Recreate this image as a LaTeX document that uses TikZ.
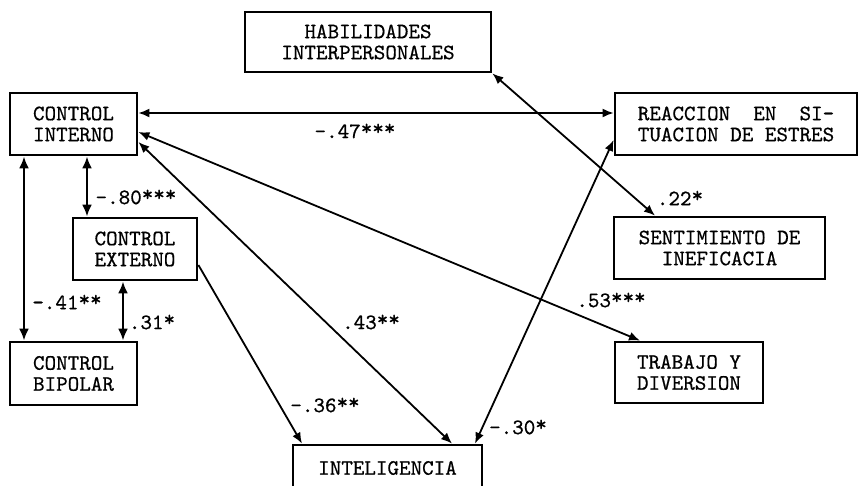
\documentclass[tikz,border=0pt]{standalone}
\usepackage{fontspec}
\setmonofont{lmmono10-regular.otf}[FakeBold=0.6]
\usetikzlibrary{arrows.meta}
\newcommand{\st}[1]{\raisebox{3pt}{#1}}
\begin{document}
\begin{tikzpicture}[x=1pt,y=-1pt,
  box/.style={draw, line width=2.8pt, rectangle, inner sep=0pt, align=center,
    font=\ttfamily\fontsize{22}{21}\selectfont},
  lbl/.style={inner sep=0pt, font=\ttfamily\fontsize{22}{21}\selectfont},
  conn/.style={line width=1.8pt, {Latex[length=11pt,width=9pt]}-{Latex[length=11pt,width=9pt]}},
  oneway/.style={line width=1.8pt, -{Latex[length=11pt,width=9pt]}},
  thickconn/.style={line width=2.8pt, {Latex[length=12pt,width=10pt]}-{Latex[length=12pt,width=10pt]}}]
\useasboundingbox (0,0) rectangle (858,485);
\clip (0,0) rectangle (858,485);
\fill[white] (0,0) rectangle (858,485);
% boxes
\node[box, minimum width=246pt, minimum height=60pt] (hab) at (368,42) {HABILIDADES\\INTERPERSONALES};
\node[box, minimum width=127pt, minimum height=62pt] (ci) at (73.5,124) {CONTROL\\INTERNO};
\node[box, minimum width=124pt, minimum height=62pt] (ce) at (135,249) {CONTROL\\EXTERNO};
\node[box, minimum width=127pt, minimum height=63pt] (cb) at (73.5,373.5) {CONTROL\\BIPOLAR};
\node[box, minimum width=242pt, minimum height=62pt] (reac) at (736,124) {REACCION\ \ EN\ \ SI-\\TUACION DE ESTRES};
\node[box, minimum width=211pt, minimum height=62pt] (sent) at (719.5,248) {SENTIMIENTO DE\\INEFICACIA};
\node[box, minimum width=148pt, minimum height=61pt] (trab) at (689,372.5) {TRABAJO Y\\DIVERSION};
\node[box, minimum width=189pt, minimum height=46pt] (intel) at (387.5,468) {INTELIGENCIA};
% connectors
\draw[conn] ([yshift=11pt]ci.east) -- ([yshift=11pt]reac.west);
\draw[conn] ([yshift=-8pt]ci.east) -- ([xshift=-49pt]trab.north);
\draw[conn] ([yshift=-18pt]ci.east) -- ([xshift=64.5pt]intel.north);
\draw[thickconn] ([xshift=13.5pt]ci.south) -- ([xshift=-48pt]ce.north);
\draw[thickconn] ([xshift=-49.5pt]ci.south) -- ([xshift=-49.5pt]cb.north);
\draw[thickconn] ([xshift=-12pt]ce.south) -- ([xshift=49.5pt]cb.north);
\draw[oneway] ([yshift=-16pt]ce.east) -- ([xshift=-85.5pt]intel.north);
\draw[conn] ([yshift=-16pt]reac.west) -- ([xshift=87.5pt]intel.north);
\draw[conn] (hab.south east) -- ([xshift=-64.5pt]sent.north);
% labels
\node[lbl] (l47) at (355,131) {-.47\st{***}};
\node[lbl] (l80) at (136,197) {-.80\st{***}};
\node[lbl] (l41) at (67,302) {-.41\st{**}};
\node[lbl] (l31) at (152,322) {.31\st{*}};
\node[lbl] (l43) at (371,322) {.43\st{**}};
\node[lbl] (l36) at (325,405) {-.36\st{**}};
\node[lbl] (l30) at (518,427) {-.30\st{*}};
\node[lbl] (l22) at (680,198) {.22\st{*}};
\node[lbl] (l53) at (611,300) {.53\st{***}};
\end{tikzpicture}
\end{document}
